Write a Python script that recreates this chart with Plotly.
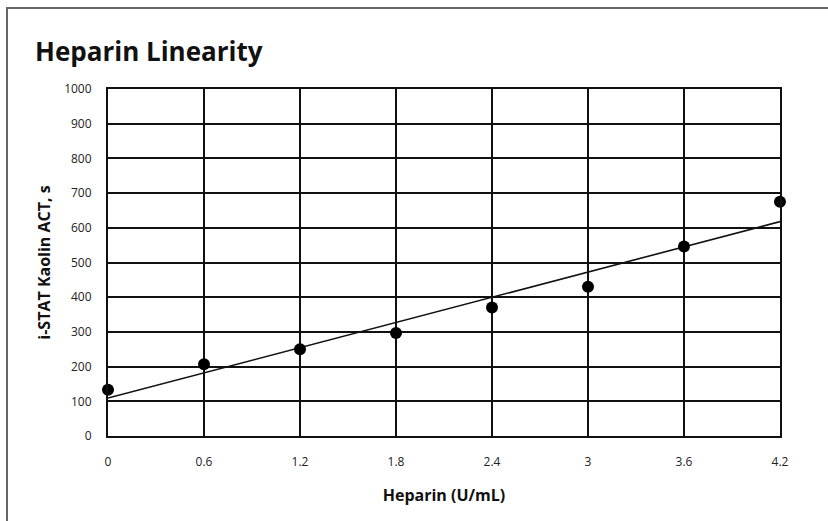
import numpy as np
import plotly.graph_objects as go

heparin = [0, 0.6, 1.2, 1.8, 2.4, 3.0, 3.6, 4.2]
act_s = [133, 207, 250, 297, 370, 430, 546, 675]
x_ticks = [0, 0.6, 1.2, 1.8, 2.4, 3, 3.6, 4.2]
x_tick_text = ["0", "0.6", "1.2", "1.8", "2.4", "3", "3.6", "4.2"]
y_ticks = list(range(0, 1001, 100))

slope, intercept = np.polyfit(heparin, act_s, 1)
fit_x = [heparin[0], heparin[-1]]
fit_y = [intercept + slope * v for v in fit_x]

fig = go.Figure()
fig.add_trace(go.Scatter(x=fit_x, y=fit_y, mode="lines",
                         line=dict(color="#111", width=1.6), showlegend=False,
                         cliponaxis=False))
fig.add_trace(go.Scatter(x=heparin, y=act_s, mode="markers",
                         marker=dict(color="#000", size=12), showlegend=False,
                         cliponaxis=False))

FONT = "Open Sans"
fig.update_layout(
    width=828, height=521,
    margin=dict(l=108, r=48, t=89, b=85),
    paper_bgcolor="white", plot_bgcolor="white",
    title=dict(text="<b>Heparin Linearity</b>", x=35/828, xanchor="left",
               y=1 - 52/521, yanchor="middle",
               font=dict(family=FONT, size=26, color="#111")),
    xaxis=dict(range=[0, 4.2], tickvals=x_ticks, ticktext=x_tick_text,
               showgrid=True, gridcolor="#111", gridwidth=2,
               showline=True, linecolor="#111", linewidth=2, mirror=True,
               zeroline=False, ticks="", ticklabelstandoff=14,
               tickfont=dict(family=FONT, size=12, color="#222"),
               title=dict(text="<b>Heparin (U/mL)</b>", standoff=20,
                          font=dict(family=FONT, size=16, color="#111"))),
    yaxis=dict(range=[0, 1000], tickvals=y_ticks,
               showgrid=True, gridcolor="#111", gridwidth=2,
               showline=True, linecolor="#111", linewidth=2, mirror=True,
               zeroline=False, ticks="", ticklabelstandoff=12,
               tickfont=dict(family=FONT, size=12, color="#222"),
               title=dict(text="<b>i-STAT Kaolin ACT, s</b>", standoff=10,
                          font=dict(family=FONT, size=16, color="#111"))),
    shapes=[dict(type="rect", xref="paper", yref="paper",
                 x0=(7 - 108) / 672, x1=2, y0=-2, y1=(436 - 8) / 347,
                 line=dict(color="#666", width=2), fillcolor="rgba(0,0,0,0)",
                 layer="below")],
)

fig.write_html("out.html", config={"displayModeBar": False})

with open("out.html", "r", encoding="utf-8") as f:
    html = f.read()
html = html.replace("<body>", '<body style="margin:0;padding:0;overflow:hidden">', 1)
with open("out.html", "w", encoding="utf-8") as f:
    f.write(html)
